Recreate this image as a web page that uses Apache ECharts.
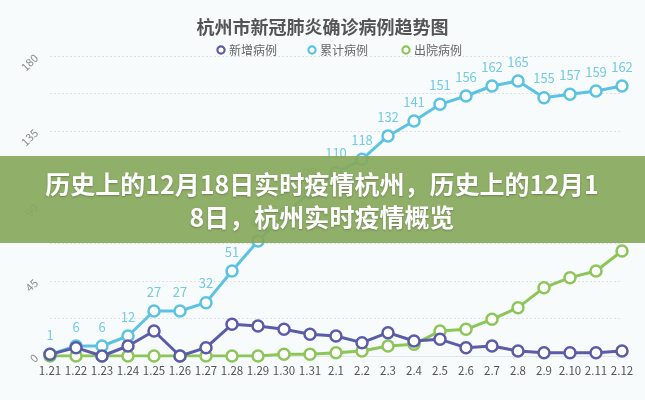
<!DOCTYPE html>
<html>
<head>
<meta charset="utf-8">
<script src="https://cdn.jsdelivr.net/npm/echarts@6/dist/echarts.min.js"></script>
<style>
html,body{margin:0;padding:0;background:#f8fbfc;}
#c{width:645px;height:400px;}
</style>
</head>
<body>
<div id="c"></div>
<script>
const categories = ['1.21','1.22','1.23','1.24','1.25','1.26','1.27','1.28','1.29','1.30','1.31','2.1','2.2','2.3','2.4','2.5','2.6','2.7','2.8','2.9','2.10','2.11','2.12'];
const newCases = [1,5,0,6,15,0,5,19,18,16,13,12,8,14,9,10,5,6,3,2,2,2,3];
const totalCases = [1,6,6,12,27,27,32,51,69,85,98,110,118,132,141,151,156,162,165,155,157,159,162];
const discharged = [0,0,0,0,0,0,0,0,0,1,1,2,3,6,7,15,16,22,29,41,47,51,63];
const yTicks = [0,45,90,135,180];
const seriesNames = ['新增病例','累计病例','出院病例'];
const titleText = '杭州市新冠肺炎确诊病例趋势图';
const bannerLine1 = '历史上的12月18日实时疫情杭州，历史上的12月1';
const bannerLine2 = '8日，杭州实时疫情概览';

const FONT = '"Noto Sans CJK SC","Noto Sans",sans-serif';
const COLORS = ['#5a5ca8','#5bc3e2','#8cc659'];
const chart = echarts.init(document.getElementById('c'), null, {renderer:'canvas'});

function lineSeries(i, data, z, label) {
  const color = COLORS[i];
  return {
    name: seriesNames[i], type:'line', data, z,
    symbol:'circle', symbolSize:11,
    itemStyle:{color:'#ffffff', borderColor:color, borderWidth:2.5},
    lineStyle:{color, width:3},
    label: label ? {show:true, position:'top', color:'#72cbe3', fontSize:13, fontFamily:FONT, distance:6} : {show:false},
    emphasis:{disabled:true}
  };
}

// legend drawn as graphic items (ring icon + text)
const legendX = [221, 312, 406];
const legendGraphics = [];
seriesNames.forEach((n, i) => {
  legendGraphics.push({type:'circle', z:50, shape:{cx:legendX[i], cy:50, r:3.6}, style:{fill:'#ffffff', stroke:COLORS[i], lineWidth:2.2}});
  legendGraphics.push({type:'text', z:50, x:legendX[i] + 8, y:50, style:{text:n, fill:'#666', font:'12px "Noto Sans CJK SC"', verticalAlign:'middle', align:'left'}});
});

chart.setOption({
  backgroundColor:'#f8fbfc',
  animation:false,
  color:COLORS,
  title:{
    text:titleText, left:'center', top:13,
    textStyle:{fontSize:18, fontWeight:'bold', color:'#555', fontFamily:FONT}
  },
  legend:{show:false, data:seriesNames},
  grid:{left:50, right:23, top:56, bottom:44, containLabel:false},
  xAxis:{
    type:'category', data:categories, boundaryGap:false,
    axisLine:{lineStyle:{color:'#e3e6e8'}},
    axisTick:{show:false},
    axisLabel:{color:'#555', fontSize:11.5, fontFamily:FONT, margin:9, interval:0}
  },
  yAxis:{
    type:'value', min:0, max:180, interval:22.5,
    axisLine:{show:false}, axisTick:{show:false},
    axisLabel:{
      rotate:45, color:'#888', fontSize:11, fontFamily:FONT, margin:14,
      formatter:v => yTicks.indexOf(v) >= 0 ? String(v) : ''
    },
    splitLine:{lineStyle:{color:'#dde1e4', type:[2,2], width:1}}
  },
  series:[
    lineSeries(0, newCases, 4, false),
    lineSeries(1, totalCases, 3, true),
    lineSeries(2, discharged, 2, false)
  ],
  graphic:legendGraphics.concat([
    {type:'rect', z:100, shape:{x:0,y:156,width:645,height:87}, style:{fill:'rgba(136,169,92,0.93)'}},
    {type:'text', z:101, x:322, y:184, style:{text:bannerLine1, fill:'#ffffff', font:'bold 25px "Noto Sans CJK SC"', align:'center', verticalAlign:'middle', textShadowColor:'rgba(0,0,0,0.25)', textShadowBlur:2, textShadowOffsetY:1}},
    {type:'text', z:101, x:322, y:217, style:{text:bannerLine2, fill:'#ffffff', font:'bold 25px "Noto Sans CJK SC"', align:'center', verticalAlign:'middle', textShadowColor:'rgba(0,0,0,0.25)', textShadowBlur:2, textShadowOffsetY:1}}
  ])
});
</script>
</body>
</html>
